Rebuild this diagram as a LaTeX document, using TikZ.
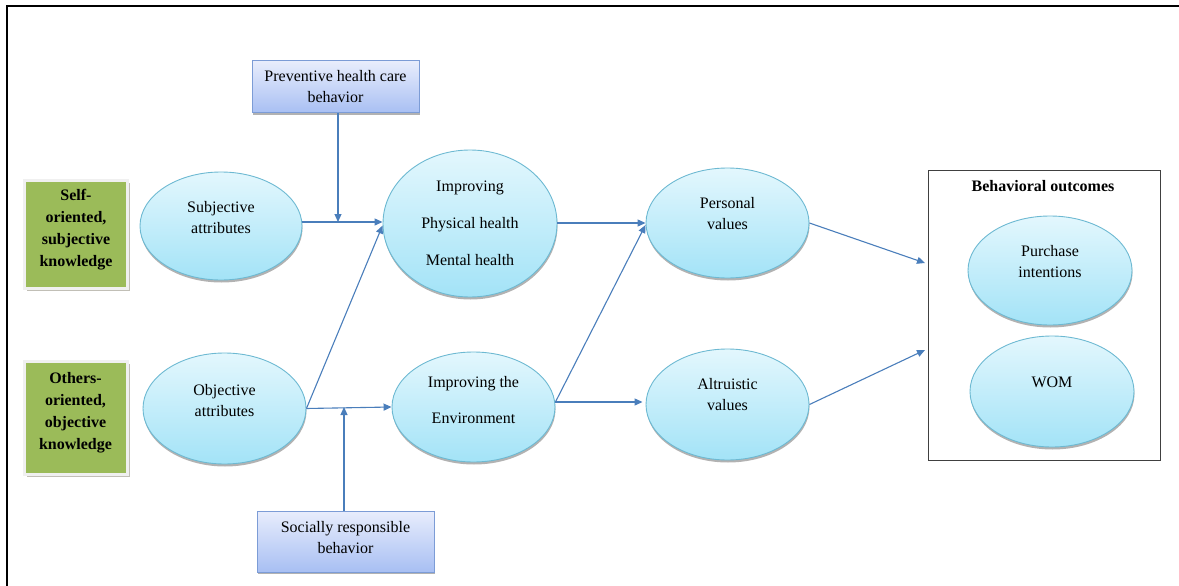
\documentclass[tikz,border=0pt]{standalone}
\usepackage{fontspec}
\setmainfont{Liberation Serif}
\usetikzlibrary{shapes.geometric,arrows.meta,shadows}
\definecolor{linkblue}{HTML}{4A7EBB}
\definecolor{bubtop}{HTML}{E3F7FD}
\definecolor{bubbot}{HTML}{A3E3F7}
\definecolor{bubedge}{HTML}{6DB9D2}
\definecolor{boxtop}{HTML}{E8EDFC}
\definecolor{boxbot}{HTML}{A8BFF3}
\definecolor{boxedge}{HTML}{7C9CD6}
\definecolor{knowgreen}{HTML}{9BBB59}
\begin{document}
\begin{tikzpicture}[x=1pt,y=-1pt,
  every node/.style={font=\fontsize{16}{21}\selectfont},
  txt/.style={align=center},
  bubble/.style={ellipse, draw=bubedge, line width=0.9pt,
    top color=bubtop, bottom color=bubbot, inner sep=0pt,
    drop shadow={shadow xshift=0.5pt, shadow yshift=-2.5pt, opacity=0.3, fill=black}},
  modbox/.style={rectangle, draw=boxedge, line width=1pt,
    top color=boxtop, bottom color=boxbot, inner sep=0pt,
    drop shadow={shadow xshift=1pt, shadow yshift=-2pt, opacity=0.3, fill=black}},
  knowbox/.style={rectangle, fill=knowgreen, draw=black!6, line width=3pt,
    minimum width=103pt, minimum height=108pt, inner sep=0pt,
    drop shadow={shadow xshift=2.5pt, shadow yshift=-2.5pt, opacity=0.35, fill=black!60!olive}},
  knowtxt/.style={align=center, font=\fontsize{16}{22}\selectfont\bfseries},
  arr/.style={draw=linkblue, line width=1.1pt, -{Triangle[width=7pt,length=8pt]}},
]
\useasboundingbox (0,0) rectangle (1179,586);

% page frame
\draw[line width=2pt] (1179,6) -- (7,6) -- (7,586);

% knowledge boxes
\node[knowbox, label={[knowtxt,yshift=4.5pt]center:Self-\\oriented,\\subjective\\knowledge}] (self) at (76,234.5) {};
\node[knowbox, minimum height=113pt, label={[knowtxt,yshift=5.5pt]center:Others-\\oriented,\\objective\\knowledge}] (others) at (75.5,418) {};

% moderators
\node[modbox, minimum width=167pt, minimum height=52pt, label={[txt]center:Preventive health care\\behavior}] (prev) at (335.5,87) {};
\node[modbox, minimum width=177pt, minimum height=61pt, label={[txt,yshift=3.5pt]center:Socially responsible\\behavior}] (soc) at (345.5,541.5) {};

% attributes
\node[bubble, minimum width=162pt, minimum height=108pt, label={[txt,yshift=8.5pt]center:Subjective\\attributes}] (subj) at (221,226) {};
\node[bubble, minimum width=163pt, minimum height=111pt, label={[txt,yshift=8pt]center:Objective\\attributes}] (obj) at (224.5,408.5) {};

% benefits
\node[bubble, minimum width=174pt, minimum height=147pt, label={[txt]center:Improving\\[16pt]Physical health\\[16pt]Mental health}] (health) at (470,223.5) {};
\node[bubble, minimum width=163pt, minimum height=110pt, label={[txt,yshift=7pt]center:Improving the\\[15pt]Environment}] (env) at (473.5,407) {};

% values
\node[bubble, minimum width=163pt, minimum height=110pt, label={[txt,yshift=9pt]center:Personal\\values}] (pers) at (727.5,223) {};
\node[bubble, minimum width=163pt, minimum height=111pt, label={[txt,yshift=10pt]center:Altruistic\\values}] (alt) at (727.5,404.5) {};

% behavioral outcomes
\node[rectangle, draw=black!75, line width=1pt, minimum width=232pt, minimum height=290pt, inner sep=0pt] (outc) at (1044,315) {};
\node[font=\fontsize{16}{21}\selectfont\bfseries] (outt) at (1043,186) {Behavioral outcomes};
\node[bubble, minimum width=164pt, minimum height=109pt, label={[txt,yshift=9pt]center:Purchase\\intentions}] (purch) at (1050,270.5) {};
\node[bubble, minimum width=164pt, minimum height=111pt, label={[txt,yshift=9.5pt]center:WOM}] (wom) at (1052,391.5) {};

% junction points of moderator arrows and entry points on the outcome box
\coordinate (pm) at (338,222);
\coordinate (sm) at (344,407);
\coordinate (em) at (555,402);
\coordinate (in1) at (925,263);
\coordinate (in2) at (925,350);

% connectors
\draw[arr] (prev.south -| pm) -- (pm);
\draw[arr] (soc.north -| sm) -- (sm);
\draw[arr] (subj.east |- pm) -- (health.west |- pm);
\draw[arr] (obj.east) -- ([yshift=-2pt]health.west);
\draw[arr] (obj.east) -- (env.west);
\draw[arr] (health.east |- pers.west) -- (pers.west);
\draw[arr] (env.east |- em) -- ([yshift=-2pt]pers.west);
\draw[arr] (env.east |- em) -- ([xshift=-3pt]alt.west |- em);
\draw[arr] (pers.east) -- (in1);
\draw[arr] (alt.east) -- (in2);
\end{tikzpicture}
\end{document}
